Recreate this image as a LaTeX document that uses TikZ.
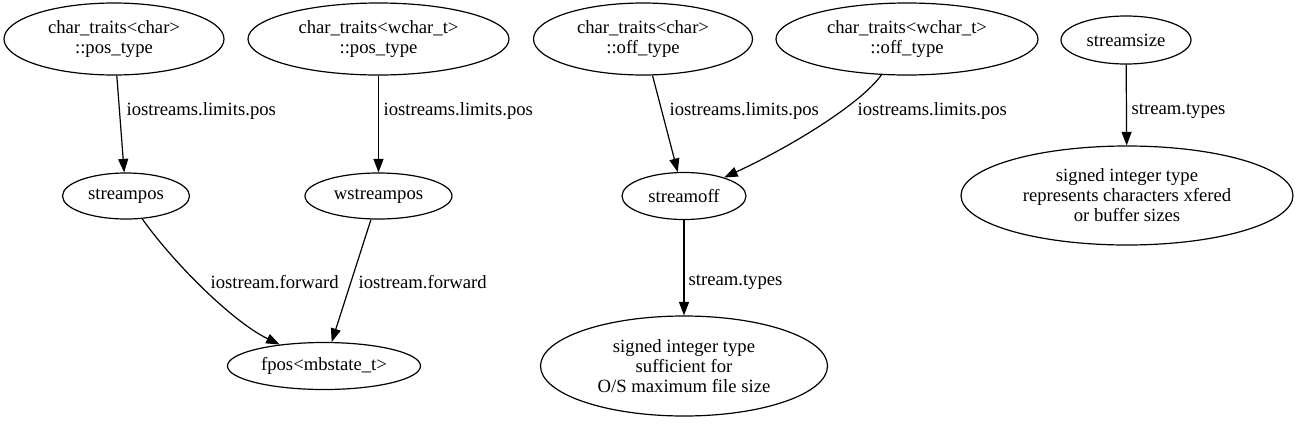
\documentclass[tikz,border=0pt]{standalone}
\usepackage{fontspec}
\setmainfont{Liberation Serif}
\usetikzlibrary{shapes.geometric,arrows.meta}
\tikzset{state/.style = {draw, ellipse, inner sep=0pt, align=center}}
\tikzset{lbl/.style = {anchor=west, inner sep=0pt}}

\begin{document}
\begin{tikzpicture}[x=1pt, y=-1pt, line width=1.2pt,
    font=\fontsize{18.67}{20}\selectfont, >={Triangle[length=13.5pt,width=10pt]}]
  \useasboundingbox (0,0) rectangle (1299,424);
  % top row
  \node [state, minimum width=220, minimum height=72] (cpos) at (114,39) {char\_traits<char>\\::pos\_type};
  \node [state, minimum width=261, minimum height=72] (wpos) at (378.5,39) {char\_traits<wchar\_t>\\::pos\_type};
  \node [state, minimum width=219, minimum height=72] (coff) at (643,39) {char\_traits<char>\\::off\_type};
  \node [state, minimum width=262, minimum height=72] (woff) at (907,39) {char\_traits<wchar\_t>\\::off\_type};
  \node [state, minimum width=130, minimum height=48] (ssize) at (1126,40) {streamsize};
  % middle row
  \node [state, minimum width=127, minimum height=46] (spos) at (126,196) {streampos};
  \node [state, minimum width=147, minimum height=46] (wspos) at (378.5,196) {wstreampos};
  \node [state, minimum width=124, minimum height=47] (soff) at (684,196) {streamoff};
  \node [state, minimum width=332, minimum height=99] (sizet) at (1127,195.5)
    {signed integer type\\represents characters xfered\\or buffer sizes};
  % bottom row
  \node [state, minimum width=193, minimum height=47] (fpos) at (324,366) {fpos<mbstate\_t>};
  \node [state, minimum width=287, minimum height=100] (offt) at (684,366)
    {signed integer type\\sufficient for\\O/S maximum file size};

  \draw [->] (cpos) -- (spos);
  \draw [->] (wpos) -- (wspos);
  \draw [->] (coff) -- (soff);
  \draw [->] (woff) .. controls (860.5,104.3) and (789,147.6) .. (soff);
  \draw [->] (ssize) -- (sizet);
  \draw [->] (spos) .. controls (174.4,264.1) and (233.1,322) .. (fpos);
  \draw [->] (wspos) -- (fpos);
  \draw [->] (soff) -- (offt);

  \node [lbl] (l1) at (126,111) {iostreams.limits.pos};
  \node [lbl] (l2) at (383,111) {iostreams.limits.pos};
  \node [lbl] (l3) at (669,111) {iostreams.limits.pos};
  \node [lbl] (l4) at (857,111) {iostreams.limits.pos};
  \node [lbl] (l5) at (1131,111) {stream.types};
  \node [lbl] (l6) at (210,282) {iostream.forward};
  \node [lbl] (l7) at (358,282) {iostream.forward};
  \node [lbl] (l8) at (688,282) {stream.types};
\end{tikzpicture}
\end{document}
